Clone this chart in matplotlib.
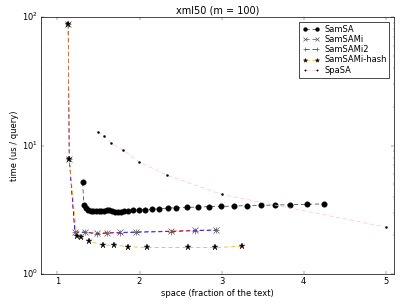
import matplotlib
matplotlib.use("Agg")
import matplotlib.pyplot as plt

plt.style.use("classic")
plt.rcParams["mathtext.fontset"] = "dejavusans"
plt.rcParams["font.family"] = ["DejaVu Sans"]

title = "xml50 (m = 100)"
xlabel = "space (fraction of the text)"
ylabel = "time (us / query)"

samsa_x = [1.307, 1.322, 1.347, 1.375, 1.404, 1.436, 1.468, 1.501, 1.533, 1.566, 1.599,
           1.630, 1.663, 1.700, 1.732, 1.773, 1.813, 1.861, 1.922, 1.991, 2.068, 2.153,
           2.243, 2.341, 2.450, 2.575, 2.713, 2.847, 2.998, 3.148, 3.309, 3.476, 3.646,
           3.837, 4.036, 4.246]
samsa_y = [5.17, 3.44, 3.25, 3.15, 3.11, 3.11, 3.09, 3.09, 3.09, 3.11, 3.13,
           3.15, 3.11, 3.04, 3.04, 3.05, 3.07, 3.09, 3.13, 3.15, 3.17, 3.19,
           3.22, 3.26, 3.28, 3.30, 3.32, 3.34, 3.36, 3.38, 3.40, 3.42, 3.44,
           3.46, 3.49, 3.51]

sami_x = [1.131, 1.144, 1.213, 1.335, 1.484, 1.599, 1.760, 1.955, 2.389, 2.673, 2.937]
sami_y = [88.0, 7.9, 2.13, 2.13, 2.07, 2.10, 2.11, 2.13, 2.16, 2.19, 2.21]
sami2_y = [88.0, 7.9, 2.11, 2.11, 2.05, 2.08, 2.09, 2.11, 2.14, 2.17, 2.19]

hash_x = [1.131, 1.144, 1.234, 1.282, 1.383, 1.557, 1.691, 1.861, 2.092, 2.591, 2.925, 3.253]
hash_y = [88.0, 7.9, 1.99, 1.93, 1.80, 1.67, 1.68, 1.63, 1.61, 1.61, 1.61, 1.64]

spasa_x = [1.49, 1.566, 1.657, 1.797, 1.998, 2.33, 3.0, 5.0]
spasa_y = [12.85, 11.96, 10.46, 9.23, 7.44, 5.89, 4.16, 2.32]

fig = plt.figure(figsize=(407 / 50, 305 / 50), dpi=50)
ax = fig.add_axes([41 / 407, 31 / 305, 353 / 407, 257 / 305])

dash = (6, 4)
ax.plot(samsa_x, samsa_y, "--", dashes=dash, color="0.2", marker="o", mfc="k", mec="k",
        markersize=8, label="SamSA")
ax.plot(sami_x, sami_y, "--", dashes=dash, color="red", marker="x", mec="0.35", mew=1.0,
        markersize=8, label="SamSAMi")
ax.plot(sami_x, sami2_y, "--", dashes=dash, color="blue", marker="+", mec="0.35", mew=1.0,
        markersize=8, label="SamSAMi2")
ax.plot(hash_x, hash_y, "--", dashes=dash, color="orange", marker="*", mfc="k", mec="k",
        markersize=9, label="SamSAMi-hash")
ax.plot(spasa_x, spasa_y, "--", dashes=dash, color="pink", marker=".", mfc="k", mec="k",
        markersize=6, label="SpaSA")

ax.set_yscale("log")
ax.set_xlim(0.8, 5.1)
ax.set_ylim(1, 100)
ax.set_xticks([1, 2, 3, 4, 5])
ax.set_title(title, fontsize=14)
ax.set_xlabel(xlabel, fontsize=12)
ax.set_ylabel(ylabel, fontsize=12)
ax.tick_params(labelsize=12)
ax.legend(loc="upper right", fontsize=12, numpoints=2, handlelength=2.0,
          labelspacing=0.16, borderpad=0.35, handletextpad=0.6, borderaxespad=0.55,
          markerscale=0.7)

fig.savefig("out.png", dpi=50)
